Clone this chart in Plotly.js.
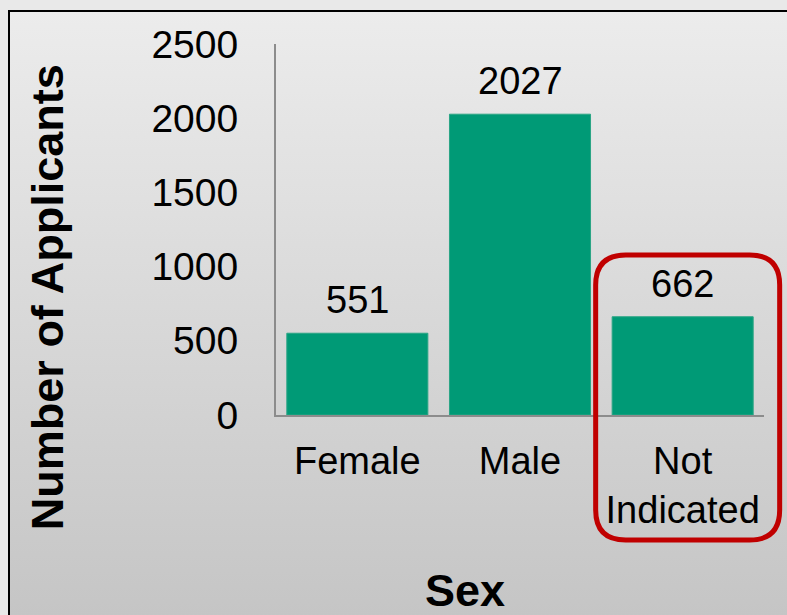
<!DOCTYPE html>
<html>
<head>
<meta charset="utf-8">
<script src="https://cdn.plot.ly/plotly-3.0.1.min.js"></script>
<style>
  html, body { margin: 0; padding: 0; width: 787px; height: 615px; overflow: hidden; background: #e9e9e9; }
  #frame { position: absolute; left: 8px; top: 10px; width: 800px; height: 620px;
           border-left: 2px solid #000; border-top: 2px solid #000;
           background: linear-gradient(to bottom, #ececec 0%, #dcdcdc 40%, #c4c4c4 100%); }
  #chart { position: absolute; left: 0; top: 0; width: 787px; height: 615px; }
</style>
</head>
<body>
<div id="frame"></div>
<div id="chart"></div>
<script>
const categories = ["Female", "Male", "Not<br>Indicated"];
const applicants = [551, 2027, 662];
const yTicks = [0, 500, 1000, 1500, 2000, 2500];
const xTitle = "Sex";
const yTitle = "Number of Applicants";
const highlighted = "Not<br>Indicated";

const font = "Liberation Sans, Arial, sans-serif";

const trace = {
  type: "bar",
  x: categories,
  y: applicants,
  marker: { color: "#009a76", line: { color: "#2aa585", width: 1 } },
  hoverinfo: "none"
};

const valueLabels = categories.map((c, i) => ({
  x: c, y: applicants[i], xref: "x", yref: "y",
  text: String(applicants[i]), showarrow: false,
  yanchor: "bottom", yshift: 10,
  font: { family: font, size: 38, color: "#000" }
}));

const hiIdx = categories.indexOf(highlighted);
const hiCenter = (hiIdx + 0.5) / categories.length;

const layout = {
  width: 787, height: 615,
  paper_bgcolor: "rgba(0,0,0,0)",
  plot_bgcolor: "rgba(0,0,0,0)",
  margin: { l: 276, r: 23, t: 44, b: 200, pad: 0, autoexpand: false },
  showlegend: false,
  bargap: 0.133,
  font: { family: font, color: "#000" },
  xaxis: {
    type: "category", automargin: false,
    showline: true, linecolor: "#8c8c8c", linewidth: 2,
    showgrid: false, zeroline: false, ticks: "",
    ticklabelstandoff: 11,
    tickfont: { family: font, size: 38, color: "#000" }
  },
  yaxis: {
    range: [0, 2500], automargin: false,
    tickvals: yTicks, ticktext: yTicks.map(String),
    showline: true, linecolor: "#8c8c8c", linewidth: 2,
    showgrid: false, zeroline: false, ticks: "",
    ticklabelstandoff: 28,
    tickfont: { family: font, size: 39, color: "#000" }
  },
  annotations: valueLabels.concat([
    { text: "<b>" + yTitle + "</b>", xref: "paper", yref: "paper",
      x: -0.469, y: 0.318, textangle: -90, showarrow: false,
      xanchor: "center", yanchor: "middle",
      font: { family: font, size: 45, color: "#000" } },
    { text: "<b>" + xTitle + "</b>", xref: "paper", yref: "paper",
      x: 0.387, y: -0.472, showarrow: false,
      xanchor: "center", yanchor: "middle",
      font: { family: font, size: 45, color: "#000" } }
  ]),
  shapes: [{
    type: "path",
    xref: "paper", yref: "paper",
    xsizemode: "pixel", ysizemode: "pixel",
    xanchor: hiCenter, yanchor: 0,
    path: "M -57 160 L 67 160 Q 97 160 97 130 L 97 -95 Q 97 -125 67 -125 L -57 -125 Q -87 -125 -87 -95 L -87 130 Q -87 160 -57 160 Z",
    line: { color: "#c00000", width: 5 },
    fillcolor: "rgba(0,0,0,0)"
  }]
};

Plotly.newPlot("chart", [trace], layout, { staticPlot: true, displayModeBar: false });
</script>
</body>
</html>
